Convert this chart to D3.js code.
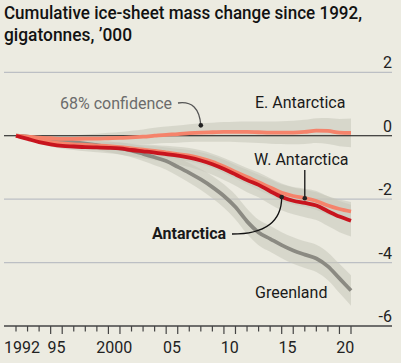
<!DOCTYPE html>
<html><head><meta charset="utf-8">
<script src="https://cdn.jsdelivr.net/npm/d3@7"></script>
<style>
body{margin:0;background:#ecebe1;}
svg{display:block;}
text{font-family:Roboto,"Open Sans",sans-serif;}
</style>
</head><body><svg id="c" width="401" height="363"></svg>
<script>
const years = [1992,1993,1994,1995,1996,1997,1998,1999,2000,2001,2002,2003,2004,2005,2006,2007,2008,2009,2010,2011,2012,2013,2014,2015,2016,2017,2018,2019,2020,2021];
const greenland = [0,-0.03,-0.07,-0.1,-0.15,-0.2,-0.25,-0.3,-0.35,-0.4,-0.47,-0.57,-0.68,-0.8,-0.98,-1.17,-1.38,-1.62,-1.9,-2.25,-2.7,-3.05,-3.25,-3.45,-3.62,-3.75,-3.87,-4.12,-4.5,-4.88];
const greenlandUnc = [0,0.03,0.05,0.07,0.09,0.11,0.13,0.15,0.17,0.19,0.21,0.23,0.25,0.27,0.29,0.31,0.33,0.35,0.37,0.39,0.4,0.4,0.41,0.41,0.42,0.42,0.43,0.44,0.46,0.48];
const antarctica = [0,-0.1,-0.2,-0.27,-0.32,-0.34,-0.36,-0.37,-0.38,-0.4,-0.45,-0.49,-0.53,-0.58,-0.63,-0.69,-0.78,-0.9,-1.05,-1.22,-1.4,-1.55,-1.75,-1.93,-2.05,-2.12,-2.2,-2.38,-2.55,-2.68];
const antarcticaUnc = [0,0.03,0.05,0.07,0.09,0.11,0.13,0.15,0.17,0.19,0.2,0.22,0.24,0.26,0.28,0.3,0.32,0.33,0.35,0.36,0.38,0.39,0.41,0.42,0.43,0.45,0.46,0.47,0.49,0.5];
const westAnt = [0,-0.07,-0.14,-0.2,-0.24,-0.27,-0.29,-0.31,-0.33,-0.36,-0.4,-0.44,-0.48,-0.53,-0.58,-0.63,-0.71,-0.82,-0.97,-1.14,-1.3,-1.47,-1.63,-1.8,-1.9,-1.97,-2.06,-2.2,-2.31,-2.39];
const westUnc = [0,0.02,0.04,0.05,0.07,0.08,0.09,0.1,0.11,0.12,0.13,0.14,0.15,0.16,0.17,0.18,0.19,0.2,0.21,0.22,0.23,0.24,0.25,0.26,0.27,0.27,0.28,0.29,0.3,0.3];
const eastAnt = [0,-0.03,-0.06,-0.08,-0.1,-0.1,-0.09,-0.09,-0.08,-0.07,-0.05,-0.03,0,0.03,0.05,0.08,0.1,0.11,0.12,0.12,0.12,0.11,0.1,0.1,0.1,0.12,0.16,0.15,0.1,0.09];
const eastUnc = [0,0.03,0.05,0.07,0.09,0.11,0.13,0.15,0.17,0.19,0.21,0.23,0.25,0.26,0.27,0.28,0.29,0.3,0.31,0.32,0.33,0.34,0.35,0.36,0.37,0.38,0.39,0.41,0.43,0.45];
const yTicks = [2,0,-2,-4,-6];
const xLabels = [[1992,"1992"],[1995,"95"],[2000,"2000"],[2005,"05"],[2010,"10"],[2015,"15"],[2020,"20"]];

const svg = d3.select("#c");
const x = d3.scaleLinear().domain([1992,2021]).range([16,351]);
const y = d3.scaleLinear().domain([-6,2]).range([326,72.3]);
const L = 4, R = 392;

// title
const title = svg.append("text").attr("fill","#121212").attr("font-size",18.5).attr("font-weight",500);
title.append("tspan").attr("x",4).attr("y",19).attr("textLength",358).attr("lengthAdjust","spacingAndGlyphs").text("Cumulative ice-sheet mass change since 1992,");
title.append("tspan").attr("x",4).attr("y",41).attr("textLength",128).attr("lengthAdjust","spacingAndGlyphs").text("gigatonnes, \u2019000");

// gridlines
yTicks.forEach(v=>{
  if (v!==0 && v!==-6) svg.append("line").attr("x1",L).attr("x2",R).attr("y1",y(v)).attr("y2",y(v)).attr("stroke","#bcbfc4").attr("stroke-width",1.2);
  svg.append("text").attr("x",R).attr("y",y(v)-4).attr("text-anchor","end").attr("font-size",16).attr("fill","#222").text(v<0?"-"+Math.abs(v):String(v));
});

const series = [
  {v:greenland,u:greenlandUnc,c:"#8b8a82"},
  {v:eastAnt,u:eastUnc,c:"#f5836b"},
  {v:westAnt,u:westUnc,c:"#f5836b"},
  {v:antarctica,u:antarcticaUnc,c:"#c8141e"}
];
const area = d3.area().x(d=>x(d.t)).y0(d=>y(d.v-d.u)).y1(d=>y(d.v+d.u)).curve(d3.curveMonotoneX);
const line = d3.line().x(d=>x(d.t)).y(d=>y(d.v)).curve(d3.curveMonotoneX);
series.forEach(s=>{ s.pts = years.map((t,i)=>({t, v:s.v[i], u:s.u[i]})); });
series.forEach(s=>{
  svg.append("path").attr("d",area(s.pts)).attr("fill","#c6c6b9").attr("opacity",0.55);
});
// zero line
svg.append("line").attr("x1",L).attr("x2",R).attr("y1",y(0)).attr("y2",y(0)).attr("stroke","#111").attr("stroke-width",1.2);
series.forEach(s=>{
  svg.append("path").attr("d",line(s.pts)).attr("fill","none").attr("stroke",s.c).attr("stroke-width",3.8).attr("stroke-linejoin","round");
});

// x axis
svg.append("line").attr("x1",L).attr("x2",R).attr("y1",y(-6)).attr("y2",y(-6)).attr("stroke","#444").attr("stroke-width",1.6);
const tall = new Set([1995,1996,2000,2001,2005,2006,2010,2011,2015,2016,2020,2021]);
years.forEach(t=>{
  svg.append("line").attr("x1",x(t)).attr("x2",x(t)).attr("y1",y(-6)).attr("y2",y(-6)+(tall.has(t)?8:5.5)).attr("stroke","#444").attr("stroke-width",1.2);
});
xLabels.forEach(([t,lab])=>{
  const first = t===1992;
  svg.append("text").attr("x",first?L:x(t+0.5)).attr("y",352.5).attr("text-anchor",first?"start":"middle").attr("font-size",16).attr("fill","#222").text(lab);
});

// annotations
const idx = t=>years.indexOf(t);
function dot(cx,cy){ svg.append("circle").attr("cx",cx).attr("cy",cy).attr("r",2.3).attr("fill","#222"); }
// 68% confidence
svg.append("text").attr("x",60).attr("y",109).attr("font-size",16).attr("fill","#6b6b6b").text("68% confidence");
const cx1 = x(2008), cy1 = y(eastAnt[idx(2008)]+eastUnc[idx(2008)])+2;
svg.append("path").attr("d",`M178,103 Q${cx1-2},100 ${cx1},${cy1}`).attr("fill","none").attr("stroke","#555").attr("stroke-width",1.3);
dot(cx1,cy1);
// E. Antarctica
svg.append("text").attr("x",255).attr("y",108).attr("font-size",16).attr("fill","#1a1a1a").text("E. Antarctica");
// W. Antarctica
svg.append("text").attr("x",254).attr("y",165).attr("font-size",16).attr("fill","#1a1a1a").text("W. Antarctica");
const wx = x(2017), wy = y(westAnt[idx(2017)]);
svg.append("line").attr("x1",wx).attr("x2",wx).attr("y1",170).attr("y2",wy).attr("stroke","#111").attr("stroke-width",1.3);
dot(wx,wy);
// Antarctica
svg.append("text").attr("x",152).attr("y",239).attr("font-size",16).attr("font-weight",700).attr("fill","#1a1a1a").text("Antarctica");
const ax = x(2015), ay = y(antarctica[idx(2015)]);
svg.append("path").attr("d",`M232,234 C262,234 ${ax},224 ${ax},${ay}`).attr("fill","none").attr("stroke","#111").attr("stroke-width",1.3);
dot(ax,ay);
// Greenland
svg.append("text").attr("x",255).attr("y",298).attr("font-size",16).attr("fill","#1a1a1a").text("Greenland");
</script></body></html>
